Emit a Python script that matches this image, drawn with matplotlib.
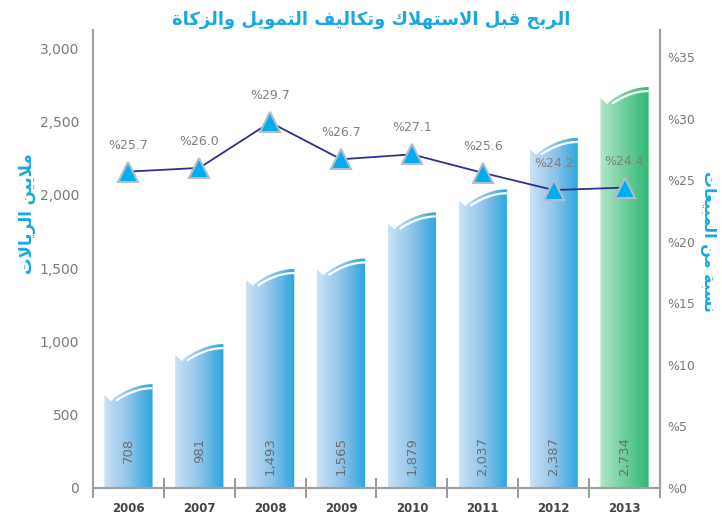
import matplotlib
matplotlib.use("Agg")
import matplotlib.pyplot as plt
import numpy as np
from matplotlib.colors import LinearSegmentedColormap
from matplotlib.patches import Polygon

# data
years = ['2006', '2007', '2008', '2009', '2010', '2011', '2012', '2013']
ebitda = [708, 981, 1493, 1565, 1879, 2037, 2387, 2734]
pct = [25.7, 26.0, 29.7, 26.7, 27.1, 25.6, 24.2, 24.4]
left_ticks = [0, 500, 1000, 1500, 2000, 2500, 3000]
right_ticks = [0, 5, 10, 15, 20, 25, 30, 35]

title_txt = 'الربح قبل الاستهلاك وتكاليف التمويل والزكاة'
left_txt = 'ملايين الريالات'
right_txt = 'نسبة من المبيعات'

# tiny arabic shaper (matplotlib has no RTL / joining support)
FORMS = {
    'ا': (0xFE8D, 0xFE8E, None, None),
    'ب': (0xFE8F, 0xFE90, 0xFE91, 0xFE92),
    'ة': (0xFE93, 0xFE94, None, None),
    'ت': (0xFE95, 0xFE96, 0xFE97, 0xFE98),
    'ح': (0xFEA1, 0xFEA2, 0xFEA3, 0xFEA4),
    'ر': (0xFEAD, 0xFEAE, None, None),
    'ز': (0xFEAF, 0xFEB0, None, None),
    'س': (0xFEB1, 0xFEB2, 0xFEB3, 0xFEB4),
    'ع': (0xFEC9, 0xFECA, 0xFECB, 0xFECC),
    'ف': (0xFED1, 0xFED2, 0xFED3, 0xFED4),
    'ق': (0xFED5, 0xFED6, 0xFED7, 0xFED8),
    'ك': (0xFED9, 0xFEDA, 0xFEDB, 0xFEDC),
    'ل': (0xFEDD, 0xFEDE, 0xFEDF, 0xFEE0),
    'م': (0xFEE1, 0xFEE2, 0xFEE3, 0xFEE4),
    'ن': (0xFEE5, 0xFEE6, 0xFEE7, 0xFEE8),
    'ه': (0xFEE9, 0xFEEA, 0xFEEB, 0xFEEC),
    'و': (0xFEED, 0xFEEE, None, None),
    'ي': (0xFEF1, 0xFEF2, 0xFEF3, 0xFEF4),
}

def dual(t):
    return t in FORMS and FORMS[t][2] is not None

def shape(s):
    toks = []
    i = 0
    while i < len(s):
        if s[i] == 'ل' and i + 1 < len(s) and s[i + 1] == 'ا':
            toks.append('LA')
            i += 2
        else:
            toks.append(s[i])
            i += 1
    res = []
    for k, t in enumerate(toks):
        if t not in FORMS and t != 'LA':
            res.append(t)
            continue
        prev = k > 0 and dual(toks[k - 1])
        nxt = dual(t) and k + 1 < len(toks) and (toks[k + 1] in FORMS or toks[k + 1] == 'LA')
        if t == 'LA':
            res.append(chr(0xFEFC if prev else 0xFEFB))
            continue
        iso, fin, ini, med = FORMS[t]
        if prev and nxt:
            c = med
        elif prev:
            c = fin
        elif nxt:
            c = ini
        else:
            c = iso
        res.append(chr(c))
    return ''.join(res)[::-1]

blue = '#1aa8e2'
grey = '#7a7a7a'
blue_cm = LinearSegmentedColormap.from_list('b', ['#cbe2f5', '#8fc4ea', '#2aa5de'])
green_cm = LinearSegmentedColormap.from_list('g', ['#b4e6ca', '#6fcf9d', '#2fb874'])

fig = plt.figure(figsize=(7.22, 5.14), dpi=100)
ax = fig.add_axes([0.1288, 0.0506, 0.7853, 0.891])
ax2 = ax.twinx()

YMAX = 3123
px = YMAX / 458.0  # data units per pixel
w = 0.68
grad = np.linspace(0, 1, 256).reshape(1, -1)
for i, v in enumerate(ebitda):
    x0, x1 = i - w / 2, i + w / 2
    xn = x0 + 0.14 * w
    yl = v - 11 * px
    yn = v - 17 * px
    t = np.linspace(0, 1, 40)
    cx = xn + (x1 - xn) * t
    cy = yn + (v - yn) * np.sin(np.pi / 2 * t) ** 0.8
    pts = [(x0, 0), (x0, yl), (xn, yn)] + list(zip(cx, cy)) + [(x1, 0)]
    poly = Polygon(pts, closed=True, facecolor='none', edgecolor='none')
    ax.add_patch(poly)
    cm_ = green_cm if i == len(ebitda) - 1 else blue_cm
    im = ax.imshow(grad, cmap=cm_, extent=[x0, x1, 0, v], aspect='auto', zorder=1)
    im.set_clip_path(poly)
    tt = np.linspace(0.12, 1, 40)
    wx = xn + (x1 - xn) * tt
    wy = yn + (v - yn) * np.sin(np.pi / 2 * tt) ** 0.8 - 4 * px
    ax.plot(wx, wy, color='white', lw=1.6, zorder=2, solid_capstyle='butt')
    ax.text(i, 345, f'{v:,}', rotation=90, ha='center', va='top', fontsize=9.5, color='#6e6e6e', zorder=3)

ax.set_xlim(-0.5, len(years) - 0.5)
ax.set_ylim(0, YMAX)
ax.set_yticks(left_ticks)
ax.set_yticklabels([f'{v:,}' for v in left_ticks])
ax.tick_params(axis='y', length=0, pad=10, labelsize=10, labelcolor=grey)
ax.set_xticks(range(len(years)))
ax.set_xticklabels(years, fontweight='bold', fontsize=8.5, color='#444444')
ax.set_xticks(np.arange(-0.5, len(years)), minor=True)
ax.tick_params(axis='x', which='major', length=0, pad=10)
ax.tick_params(axis='x', which='minor', direction='inout', length=14, width=1.2, color='#888888')

x = np.arange(len(years))
ax2.plot(x, pct, color='#2e3192', lw=1.3, marker='^', markersize=15,
         markerfacecolor='#00aeef', markeredgecolor='#b2bccb', markeredgewidth=1.5, zorder=5)
for xi, p in zip(x, pct):
    ax2.annotate(f'%{p}', (xi, p), xytext=(0, 19), textcoords='offset points',
                 ha='center', va='center', fontsize=9, color='#808080')
ax2.set_ylim(0, 37.2)
ax2.set_yticks(right_ticks)
ax2.set_yticklabels([f'%{v}' for v in right_ticks])
ax2.tick_params(axis='y', length=0, pad=5, labelsize=9, labelcolor=grey)

for a in (ax, ax2):
    a.spines['top'].set_visible(False)
    for s in ('left', 'right', 'bottom'):
        a.spines[s].set_color('#a0a0a0')
        a.spines[s].set_linewidth(1.5)
ax.set_zorder(ax2.get_zorder() - 1)
ax2.patch.set_visible(False)

fig.text(0.514, 0.962, shape(title_txt), ha='center', va='center', fontsize=13,
         fontweight='bold', color=blue, family='DejaVu Sans')
fig.text(0.038, 0.585, shape(left_txt), ha='center', va='center', rotation=90,
         fontsize=12, fontweight='bold', color=blue, family='DejaVu Sans')
fig.text(0.981, 0.53, shape(right_txt), ha='center', va='center', rotation=-90,
         fontsize=11.5, fontweight='bold', color=blue, family='DejaVu Sans')

fig.savefig('out.png', dpi=100)
